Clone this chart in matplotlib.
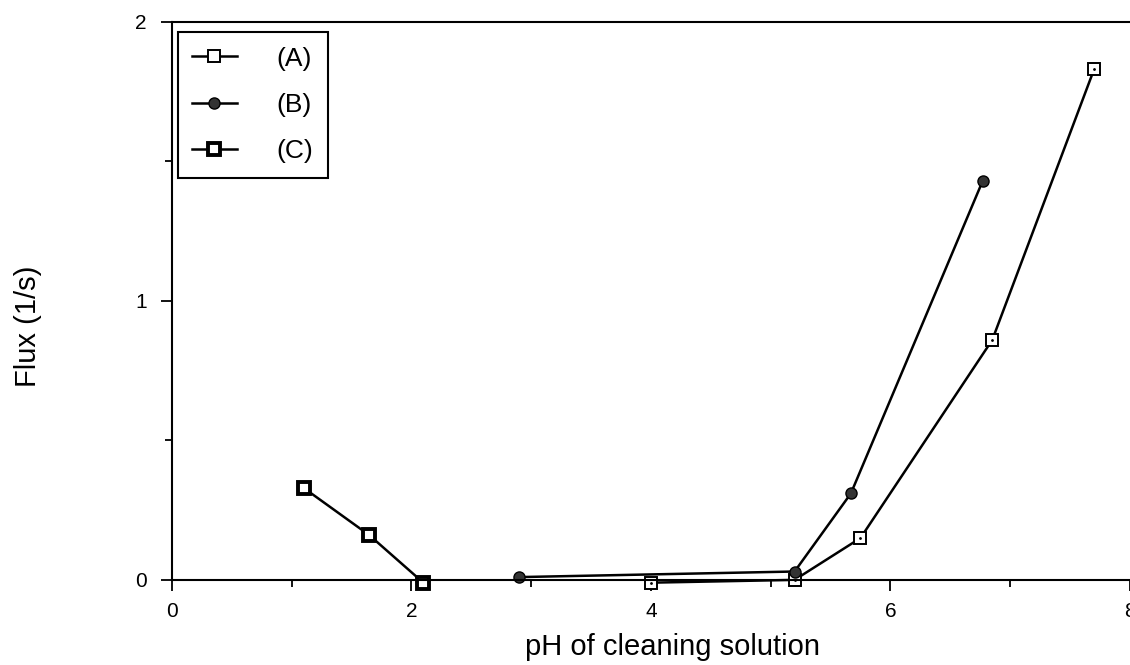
import matplotlib
matplotlib.use('Agg')
import matplotlib.pyplot as plt
from matplotlib.ticker import MultipleLocator

plt.rcParams['font.family'] = ['Liberation Sans', 'DejaVu Sans']

# data
ph_a = [4.0, 5.2, 5.75, 6.85, 7.7]
flux_a = [-0.01, 0.0, 0.15, 0.86, 1.83]

ph_b = [2.9, 5.2, 5.67, 6.77]
flux_b = [0.01, 0.03, 0.31, 1.43]

ph_c = [1.1, 1.65, 2.1]
flux_c = [0.33, 0.16, -0.01]

labels = ['(A)', '(B)', '(C)']

fig = plt.figure(figsize=(11.3, 6.65), dpi=100)
ax = fig.add_axes([0.152, 0.128, 0.848, 0.839])

ax.plot(ph_a, flux_a, color='black', lw=1.8, marker='s', ms=9,
        mfc='white', mec='black', mew=1.4, clip_on=False, label=labels[0])
ax.plot(ph_a, flux_a, ls='none', marker='.', ms=2, color='black', clip_on=False)
ax.plot(ph_b, flux_b, color='black', lw=1.8, marker='o', ms=8,
        mfc='#333333', mec='black', clip_on=False, label=labels[1])
ax.plot(ph_c, flux_c, color='black', lw=1.8, marker='s', ms=9,
        mfc='white', mec='black', mew=2.8, clip_on=False, label=labels[2])

ax.set_xlim(0, 8)
ax.set_ylim(0, 2)
ax.xaxis.set_major_locator(MultipleLocator(2))
ax.xaxis.set_minor_locator(MultipleLocator(1))
ax.yaxis.set_major_locator(MultipleLocator(1))
ax.yaxis.set_minor_locator(MultipleLocator(0.5))
ax.tick_params(which='both', direction='out', width=1.3, labelsize=15)
ax.tick_params(which='major', length=8)
ax.tick_params(which='minor', length=5)
ax.tick_params(axis='x', pad=8)
ax.tick_params(axis='y', pad=10)

for side in ['left', 'bottom', 'top']:
    ax.spines[side].set_linewidth(1.5)
ax.spines['right'].set_visible(False)

ax.set_xlabel('pH of cleaning solution', fontsize=21)
ax.xaxis.set_label_coords(0.523, -0.095)
ax.set_ylabel('Flux (1/s)', fontsize=21)
ax.yaxis.set_label_coords(-0.135, 0.455)

leg = ax.legend(loc='upper left', bbox_to_anchor=(0.006, 0.982), borderaxespad=0,
                fontsize=19, handlelength=1.7, handletextpad=1.5,
                labelspacing=0.85, borderpad=0.55, fancybox=False,
                edgecolor='black', framealpha=1)
leg.get_frame().set_linewidth(1.5)

fig.savefig('out.png', dpi=100)
